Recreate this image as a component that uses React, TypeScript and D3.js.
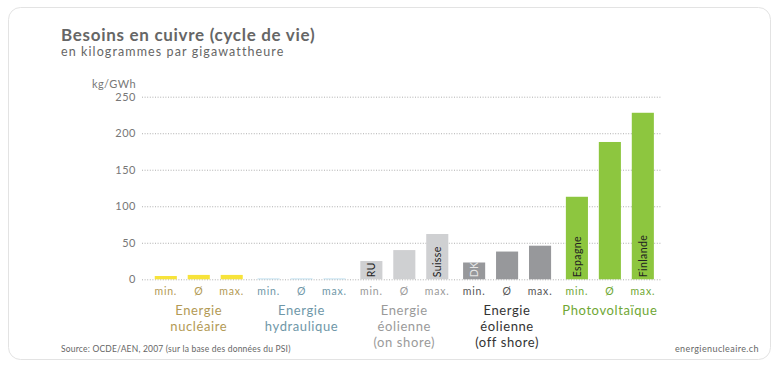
import React, { useEffect, useRef } from "react";
import * as d3 from "d3";

// groups of energy sources, with their min / average / max copper needs (kg/GWh)
const groups = ["nuc", "hydro", "onshore", "offshore", "pv"];
const measures = ["min.", "Ø", "max."];
const nuclearValues = [4.5, 6, 6];
const hydroValues = [1, 1, 1];
const onshoreValues = [25, 40, 62];
const offshoreValues = [23, 38, 46];
const pvValues = [113, 188, 228];
const groupLabels = [
  ["Energie", "nucléaire"],
  ["Energie", "hydraulique"],
  ["Energie", "éolienne", "(on shore)"],
  ["Energie", "éolienne", "(off shore)"],
  ["Photovoltaïque"],
];
const barNotes = [
  ["", "", ""],
  ["", "", ""],
  ["RU", "", "Suisse"],
  ["DK", "", ""],
  ["Espagne", "", "Finlande"],
];
const yTicks = [0, 50, 100, 150, 200, 250];

const barColors = ["#f7e33a", "#a9d5ea", "#cfd0d2", "#97989b", "#8dc63f"];
const labelColors = ["#b39a55", "#6f97a8", "#9a9a9a", "#333333", "#6fa734"];
const measureColors = ["#b39a55", "#6f97a8", "#9a9a9a", "#555555", "#6fa734"];
const noteColors = ["#222", "#222", "#222", "#e6e6e6", "#222"];

const FONT = "Lato, 'DejaVu Sans', sans-serif";

export default function App() {
  const ref = useRef<SVGSVGElement>(null);

  useEffect(() => {
    const svg = d3.select(ref.current);
    svg.selectAll("*").remove();

    const allValues = [nuclearValues, hydroValues, onshoreValues, offshoreValues, pvValues];

    // card background
    svg
      .append("rect")
      .attr("x", 8.5)
      .attr("y", 7.5)
      .attr("width", 762)
      .attr("height", 352)
      .attr("rx", 12)
      .attr("fill", "#fff")
      .attr("stroke", "#e3e3e3");

    svg
      .append("text")
      .attr("x", 61)
      .attr("y", 41)
      .attr("fill", "#666")
      .style("font-size", "17px")
      .style("font-weight", 700)
      .style("letter-spacing", "0.7px")
      .text("Besoins en cuivre (cycle de vie)");

    svg
      .append("text")
      .attr("x", 61)
      .attr("y", 55.5)
      .attr("fill", "#666")
      .style("font-size", "12.5px")
      .style("letter-spacing", "1.1px")
      .text("en kilogrammes par gigawattheure");

    const y = d3.scaleLinear().domain([0, 250]).range([279.3, 96.7]); // value -> pixel

    const x0 = d3
      .scaleBand()
      .domain(groups)
      .range([142, 660])
      .paddingInner(0)
      .paddingOuter(0.02); // one band per energy source

    const x1 = d3
      .scaleBand()
      .domain(measures)
      .range([0, 88])
      .paddingInner(0.33)
      .paddingOuter(0); // min / Ø / max inside each group

    const offset = 10.7; // first bar's left edge inside the group band

    // grid (dotted)
    svg
      .append("g")
      .selectAll("line")
      .data(yTicks)
      .join("line")
      .attr("x1", 142)
      .attr("x2", 662)
      .attr("y1", (d) => y(d) + 0.5)
      .attr("y2", (d) => y(d) + 0.5)
      .attr("stroke", "#9a9a9a")
      .attr("stroke-width", 0.8)
      .attr("stroke-dasharray", "1,1.6");

    svg
      .append("g")
      .selectAll("text")
      .data(yTicks)
      .join("text")
      .attr("x", 136)
      .attr("y", (d) => y(d) + 4)
      .attr("text-anchor", "end")
      .attr("fill", "#777")
      .style("font-size", "11px")
      .style("letter-spacing", "0.5px")
      .text((d) => d);

    svg
      .append("text")
      .attr("x", 136)
      .attr("y", 88)
      .attr("text-anchor", "end")
      .attr("fill", "#777")
      .style("font-size", "11px")
      .style("letter-spacing", "0.4px")
      .text("kg/GWh");

    groups.forEach((grp, gi) => {
      const g = svg.append("g").attr("transform", `translate(${(x0(grp) as number) + offset},0)`);
      const vals = allValues[gi];

      g.selectAll("rect")
        .data(vals)
        .join("rect")
        .attr("x", (_, i) => x1(measures[i]) as number)
        .attr("y", (d) => y(d))
        .attr("width", x1.bandwidth())
        .attr("height", (d) => y(0) - y(d))
        .attr("fill", barColors[gi]);

      // notes written upright inside some bars
      g.selectAll("text.note")
        .data(barNotes[gi])
        .join("text")
        .attr("class", "note")
        .attr(
          "transform",
          (_, i) => `translate(${(x1(measures[i]) as number) + x1.bandwidth() / 2 + 4},${y(0) - 2}) rotate(-90)`
        )
        .attr("fill", noteColors[gi])
        .style("font-size", "10.5px")
        .style("letter-spacing", "0.4px")
        .text((d) => d);

      g.selectAll("text.measure")
        .data(measures)
        .join("text")
        .attr("class", "measure")
        .attr("x", (d) => (x1(d) as number) + x1.bandwidth() / 2)
        .attr("y", 294.5)
        .attr("text-anchor", "middle")
        .attr("fill", measureColors[gi])
        .style("font-size", "10.5px")
        .style("letter-spacing", "0.8px")
        .text((d) => d);

      g.selectAll("text.group")
        .data(groupLabels[gi])
        .join("text")
        .attr("class", "group")
        .attr("x", 44)
        .attr("y", (_, i) => 315 + i * 16)
        .attr("text-anchor", "middle")
        .attr("fill", labelColors[gi])
        .style("font-size", "13px")
        .style("letter-spacing", "0.6px")
        .text((d) => d);
    });

    svg
      .append("text")
      .attr("x", 61)
      .attr("y", 352)
      .attr("fill", "#666")
      .style("font-size", "8.5px")
      .style("letter-spacing", "0.2px")
      .text("Source: OCDE/AEN, 2007 (sur la base des données du PSI)");

    svg
      .append("text")
      .attr("x", 759)
      .attr("y", 352)
      .attr("text-anchor", "end")
      .attr("fill", "#666")
      .style("font-size", "9px")
      .style("letter-spacing", "0.4px")
      .text("energienucleaire.ch");
  }, []);

  return (
    <svg
      ref={ref}
      width={780}
      height={366}
      style={{ position: "absolute", left: 0, top: 0, display: "block", fontFamily: FONT, background: "#fff" }}
    />
  );
}
